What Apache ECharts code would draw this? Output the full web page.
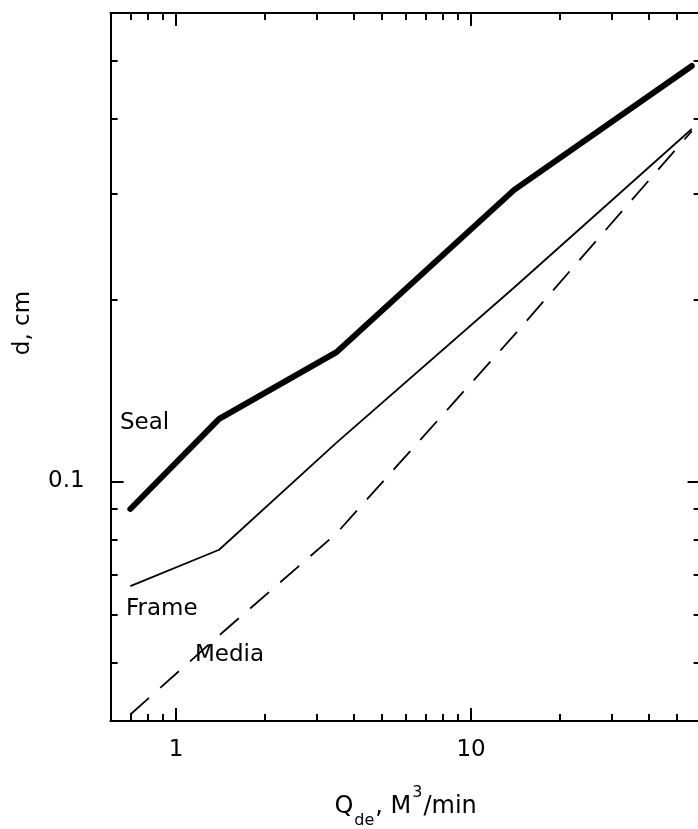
<!DOCTYPE html>
<html>
<head>
<meta charset="utf-8">
<script src="https://cdn.jsdelivr.net/npm/echarts@6/dist/echarts.min.js"></script>
<style>
html,body{margin:0;padding:0;background:#fff;}
#chart{width:698px;height:829px;}
</style>
</head>
<body>
<div id="chart"></div>
<script>
// Flow rate Q_de (M^3/min) at the break points of each curve
const flowRates = [0.7, 1.4, 3.5, 14, 56];
// d (cm) for each curve
const sealValues  = [0.09, 0.127, 0.164, 0.305, 0.49];
const frameValues = [0.067, 0.077, 0.116, 0.21, 0.385];
const mediaValues = [0.041, 0.0555, 0.082, 0.175, 0.382];
// Axis ranges and ticks
const xRange = [0.6, 60];
const yRange = [0.04, 0.6];
const xMajorTicks = [1, 10];
const xMinorTicks = [0.7, 0.8, 0.9, 2, 3, 4, 5, 6, 7, 8, 9, 20, 30, 40, 50];
const yMajorTicks = [0.1];
const yMinorTicks = [0.05, 0.06, 0.07, 0.08, 0.09, 0.2, 0.3, 0.4, 0.5];
const curveNames = ['Seal', 'Frame', 'Media'];

const FONT = '"DejaVu Sans", sans-serif';
const FS = 23;
const pairs = (ys) => flowRates.map((x, i) => [x, ys[i]]);

function xAx(pos, ticks, len, labels, extra) {
  return Object.assign({
    type: 'log', position: pos, min: xRange[0], max: xRange[1],
    axisLine: {show: true, onZero: false, lineStyle: {color: '#000', width: 2}},
    axisTick: {show: true, inside: true, length: len, customValues: ticks, lineStyle: {color: '#000', width: 2}},
    axisLabel: labels ? {show: true, customValues: labels, color: '#000', fontFamily: FONT, fontSize: FS, margin: 18} : {show: false},
    splitLine: {show: false}, minorTick: {show: false}, minorSplitLine: {show: false}
  }, extra || {});
}
function yAx(pos, ticks, len, labels, extra) {
  return Object.assign({
    type: 'log', position: pos, min: yRange[0], max: yRange[1],
    axisLine: {show: true, onZero: false, lineStyle: {color: '#000', width: 2}},
    axisTick: {show: true, inside: true, length: len, customValues: ticks, lineStyle: {color: '#000', width: 2}},
    axisLabel: labels ? {show: true, customValues: labels, color: '#000', fontFamily: FONT, fontSize: FS, margin: 26} : {show: false},
    splitLine: {show: false}, minorTick: {show: false}, minorSplitLine: {show: false}
  }, extra || {});
}

const chart = echarts.init(document.getElementById('chart'), null, {renderer: 'canvas'});
chart.setOption({
  backgroundColor: '#fff',
  animation: false,
  grid: {left: 110.6, top: 13, width: 590, height: 708, containLabel: false, outerBoundsMode: 'none'},
  xAxis: [
    xAx('bottom', xMajorTicks, 13, xMajorTicks, {
      name: '{a|Q}{sub|de}{a|, M}{sup|3}{a|/min}',
      nameLocation: 'middle', nameGap: 64,
      nameTextStyle: {
        color: '#000', fontFamily: FONT, fontSize: 24,
        rich: {
          a: {fontFamily: FONT, fontSize: 24, color: '#000', lineHeight: 44, verticalAlign: 'middle'},
          sub: {fontFamily: FONT, fontSize: 16, color: '#000', lineHeight: 18, verticalAlign: 'bottom', padding: [0, 1, 0, 1]},
          sup: {fontFamily: FONT, fontSize: 16, color: '#000', lineHeight: 18, verticalAlign: 'top', padding: [0, 1, 0, 1]}
        }
      }
    }),
    xAx('bottom', xMinorTicks, 7, null),
    xAx('top', xMajorTicks, 13, null),
    xAx('top', xMinorTicks, 7, null)
  ],
  yAxis: [
    yAx('left', yMajorTicks, 13, yMajorTicks, {
      name: 'd, cm', nameLocation: 'middle', nameGap: 76,
      nameTextStyle: {color: '#000', fontFamily: FONT, fontSize: FS, padding: [0, 0, 0, 88]}
    }),
    yAx('left', yMinorTicks, 7, null),
    yAx('right', yMajorTicks, 13, null),
    yAx('right', yMinorTicks, 7, null)
  ],
  series: [
    {name: curveNames[0], type: 'line', data: pairs(sealValues), showSymbol: false, symbol: 'none',
     lineStyle: {color: '#000', width: 6, cap: 'round', join: 'round'}, z: 3},
    {name: curveNames[1], type: 'line', data: pairs(frameValues), showSymbol: false, symbol: 'none',
     lineStyle: {color: '#000', width: 1.8}, z: 3},
    {name: curveNames[2], type: 'line', data: pairs(mediaValues), showSymbol: false, symbol: 'none',
     lineStyle: {color: '#000', width: 1.8, type: [25, 15]}, z: 3}
  ],
  graphic: [
    {type: 'text', left: 120, top: 412, style: {text: curveNames[0], fontFamily: FONT, fontSize: FS, fill: '#000'}},
    {type: 'text', left: 126, top: 598, style: {text: curveNames[1], fontFamily: FONT, fontSize: FS, fill: '#000'}},
    {type: 'text', left: 195, top: 644, style: {text: curveNames[2], fontFamily: FONT, fontSize: FS, fill: '#000'}}
  ]
});
</script>
</body>
</html>
